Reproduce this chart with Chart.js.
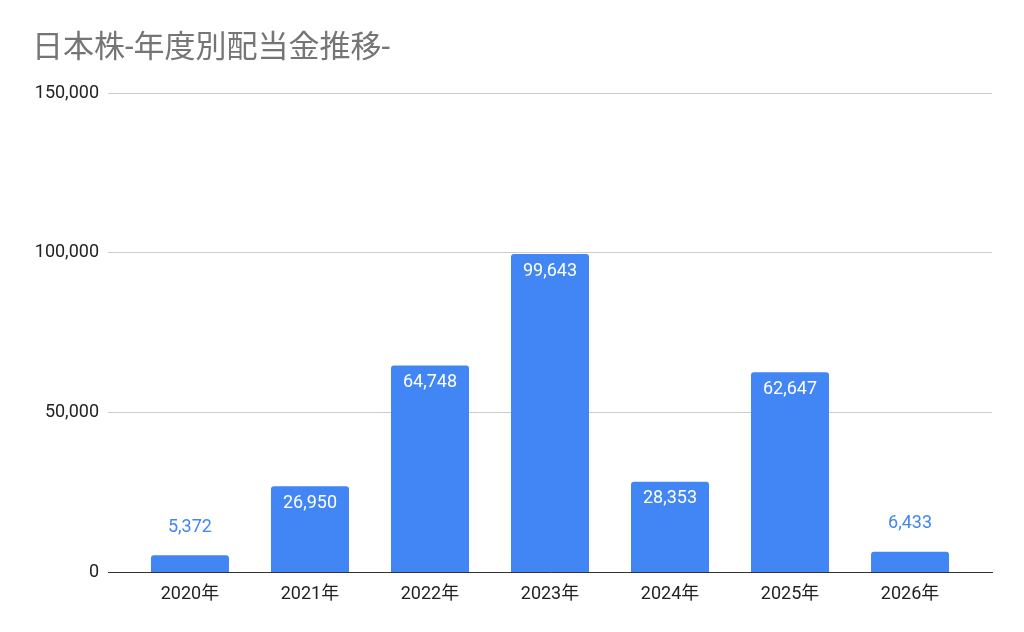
<!DOCTYPE html>
<html>
<head>
<meta charset="utf-8">
<script src="https://cdn.jsdelivr.net/npm/chart.js@4"></script>
<style>
  html, body { margin: 0; padding: 0; background: #fff; }
  #wrap { width: 1024px; height: 632px; }
</style>
</head>
<body>
<div id="wrap"><canvas id="dividends"></canvas></div>
<script>
const years = ['2020年', '2021年', '2022年', '2023年', '2024年', '2025年', '2026年'];
const dividends = [5372, 26950, 64748, 99643, 28353, 62647, 6433];
const yTicks = [0, 50000, 100000, 150000];

const FONT = "Roboto, 'Noto Sans CJK JP', sans-serif";
const BLUE = '#4285f4';
// extra empty room at both ends of the category axis, in categories
const X_EXTRA = 0.183;

// draw values on the bars: inside in white if the bar is tall enough, above in blue otherwise
const valueLabels = {
    id: 'valueLabels',
    afterDatasetsDraw(chart) {
        const ctx = chart.ctx;
        const meta = chart.getDatasetMeta(0);
        ctx.save();
        ctx.font = '18px ' + FONT;
        ctx.textAlign = 'center';
        ctx.textBaseline = 'middle';
        meta.data.forEach((bar, i) => {
            const text = dividends[i].toLocaleString('en-US');
            const h = bar.base - bar.y;
            if (h > 40) {
                ctx.fillStyle = '#ffffff';
                ctx.fillText(text, bar.x, bar.y + 17);
            } else {
                ctx.fillStyle = BLUE;
                ctx.fillText(text, bar.x, bar.y - 28);
            }
        });
        ctx.restore();
    }
};

new Chart(document.getElementById('dividends'), {
    type: 'bar',
    data: {
        labels: years,
        datasets: [{
            data: dividends,
            backgroundColor: BLUE,
            borderRadius: { topLeft: 3, topRight: 3 },
            borderSkipped: 'bottom',
            barPercentage: 0.65,
            categoryPercentage: 1.0,
        }]
    },
    options: {
        responsive: true,
        maintainAspectRatio: false,
        animation: false,
        layout: { padding: { left: 32, right: 32, top: 0, bottom: 16 } },
        plugins: {
            legend: { display: false },
            tooltip: { enabled: false },
            title: {
                display: true,
                text: '日本株-年度別配当金推移-',
                align: 'start',
                color: '#757575',
                font: { family: FONT, size: 31, weight: 'normal' },
                padding: { top: 31, bottom: 25 }
            }
        },
        scales: {
            x: {
                afterBuildTicks(scale) {
                    scale._startValue = -0.5 - X_EXTRA;
                    scale._valueRange = years.length + 2 * X_EXTRA;
                },
                grid: { display: false, drawTicks: false },
                border: { display: true, color: '#333333', width: 1 },
                ticks: { color: '#222222', font: { family: FONT, size: 18 }, padding: 11 }
            },
            y: {
                min: 0,
                max: 150000,
                afterBuildTicks(scale) { scale.ticks = yTicks.map(v => ({ value: v })); },
                afterFit(scale) { scale.width = 76; },
                grid: { color: '#cccccc', drawTicks: false },
                border: { display: false },
                ticks: {
                    color: '#222222',
                    font: { family: FONT, size: 18 },
                    padding: 9,
                    callback: v => v.toLocaleString('en-US')
                }
            }
        }
    },
    plugins: [valueLabels]
});
</script>
</body>
</html>
